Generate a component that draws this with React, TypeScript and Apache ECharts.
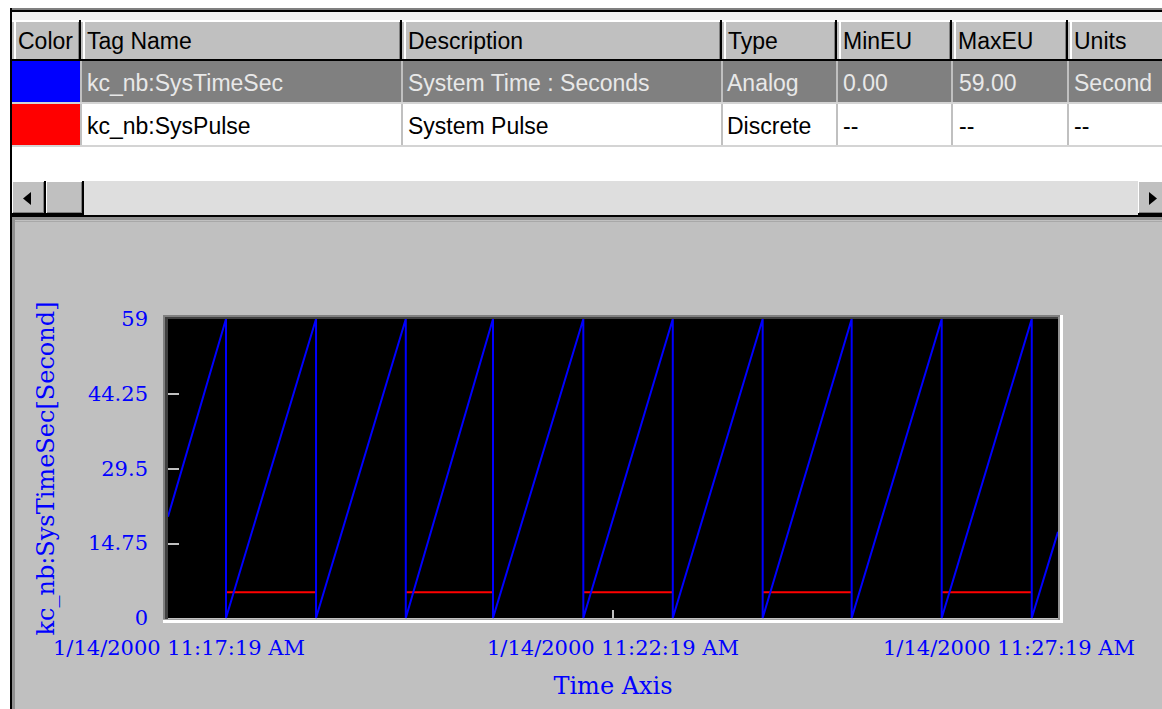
import React, { useEffect, useRef } from "react";
import * as echarts from "echarts";

// ---------- table data ----------
const columns = ["Color", "Tag Name", "Description", "Type", "MinEU", "MaxEU", "Units"];
const tagColors = ["#0000ff", "#ff0000"];
const tagNames = ["kc_nb:SysTimeSec", "kc_nb:SysPulse"];
const descriptions = ["System Time : Seconds", "System Pulse"];
const tagTypes = ["Analog", "Discrete"];
const minEU = ["0.00", "--"];
const maxEU = ["59.00", "--"];
const units = ["Second", "--"];

// ---------- chart data ----------
// time axis: seconds after 1/14/2000 11:17:19 AM
const xTickSec = [0, 300, 600];
const xTickLabels = ["1/14/2000 11:17:19 AM", "1/14/2000 11:22:19 AM", "1/14/2000 11:27:19 AM"];
const yTickValues = [0, 14.75, 29.5, 44.25, 59];

// kc_nb:SysTimeSec (seconds after start, value)
const sysTimeSecT = [0, 39.1, 39.1, 99.8, 99.8, 160.3, 160.3, 219.1, 219.1, 280.0, 280.0, 340.3, 340.3, 400.9, 400.9, 460.9, 460.9, 521.6, 521.6, 582.3, 582.3, 600];
const sysTimeSecV = [20, 59, 0, 59, 0, 59, 0, 59, 0, 59, 0, 59, 0, 59, 0, 59, 0, 59, 0, 59, 0, 17];

// kc_nb:SysPulse (discrete 0 / 1); only the "1" state is drawn on the trend
const sysPulseT = [0, 39.1, 39.1, 99.8, 99.8, 160.3, 160.3, 219.1, 219.1, 280.0, 280.0, 340.3, 340.3, 400.9, 400.9, 460.9, 460.9, 521.6, 521.6, 582.3, 582.3, 600];
const sysPulseV = [0, 0, 1, 1, 0, 0, 1, 1, 0, 0, 1, 1, 0, 0, 1, 1, 0, 0, 1, 1, 0, 0];

const SANS = '"Liberation Sans", Arial, sans-serif';
const SERIF = '"DejaVu Serif", serif';
const BLUE = "#0000ff";

function rect(x: number, y: number, w: number, h: number, fill: string, z = 0) {
  return { type: "rect", silent: true, z, shape: { x, y, width: w, height: h }, style: { fill } };
}
function txt(x: number, y: number, text: string, fill: string) {
  return {
    type: "text",
    silent: true,
    x,
    y,
    style: { text, fill, fontSize: 23, fontFamily: SANS, verticalAlign: "middle", align: "left" },
  };
}

function buildGraphics() {
  const g: any[] = [];
  const colX = [12, 81, 402, 722, 837, 952, 1068, 1240];
  // white page area
  g.push(rect(0, 0, 1162, 219, "#ffffff"));
  g.push(rect(0, 0, 10, 709, "#ffffff"));
  // outer frame
  g.push(rect(10, 8, 1152, 2, "#808080"));
  g.push(rect(10, 10, 1152, 2, "#000000"));
  g.push(rect(10, 8, 2, 701, "#000000"));
  g.push(rect(12, 12, 1150, 8, "#f0f0f0"));
  // header
  for (let i = 0; i < columns.length; i++) {
    const x0 = colX[i];
    const x1 = colX[i + 1];
    g.push(rect(x0, 20, x1 - x0, 41, "#c0c0c0"));
    g.push(rect(x0, 20, x1 - x0, 2, "#ffffff"));
    g.push(rect(x0 + 2, 20, 2, 41, "#ffffff"));
    g.push(rect(x1 - 2, 20, 2, 41, "#000000"));
    g.push(rect(x1 - 3, 22, 1, 38, "#808080"));
    g.push(txt(x0 + 6, 41, columns[i], "#000000"));
  }
  g.push(rect(12, 59, 1150, 2, "#000000"));
  // rows
  const rowY = [61, 104];
  const rowH = 43;
  for (let r = 0; r < 2; r++) {
    const y0 = rowY[r];
    const sel = r === 0;
    g.push(rect(colX[1], y0, 1162 - colX[1], rowH, sel ? "#808080" : "#ffffff"));
    g.push(rect(colX[0], y0, colX[1] - colX[0], rowH - 2, tagColors[r]));
    for (let i = 1; i < colX.length - 1; i++) {
      g.push(rect(colX[i] - 1, y0, 2, rowH, "#c0c0c0"));
    }
    g.push(rect(12, y0 + rowH - 2, 1150, 2, "#d4d4d4"));
    const tc = sel ? "#e8e8e8" : "#000000";
    const cells = [tagNames[r], descriptions[r], tagTypes[r], minEU[r], maxEU[r], units[r]];
    const offs = [6, 6, 5, 6, 7, 6];
    for (let i = 0; i < cells.length; i++) {
      g.push(txt(colX[i + 1] + offs[i], y0 + 22, cells[i], tc));
    }
  }
  // scrollbar
  g.push(rect(12, 181, 1150, 34, "#dedede"));
  const button = (x: number, w: number) => {
    g.push(rect(x, 181, w, 34, "#c0c0c0"));
    g.push(rect(x, 181, w, 1, "#ffffff"));
    g.push(rect(x, 181, 1, 34, "#ffffff"));
    g.push(rect(x + w - 2, 181, 2, 35, "#000000"));
    g.push(rect(x, 213, w, 2, "#000000"));
    g.push(rect(x + w - 3, 182, 1, 31, "#808080"));
    g.push(rect(x + 1, 212, w - 3, 1, "#808080"));
  };
  button(12, 34);
  button(46, 38);
  button(1138, 30);
  g.push({ type: "polygon", silent: true, shape: { points: [[23, 198.5], [31, 192], [31, 205]] }, style: { fill: "#000000" } });
  g.push({ type: "polygon", silent: true, shape: { points: [[1157, 198.5], [1149, 192], [1149, 205]] }, style: { fill: "#000000" } });
  // panel top edge
  g.push(rect(12, 215, 1150, 2, "#000000"));
  g.push(rect(12, 217, 1150, 3, "#909090"));
  g.push(rect(12, 220, 3, 489, "#909090"));
  g.push(rect(15, 221, 1147, 1, "#a8a8a8"));
  // plot sunken frame
  const Z = 50;
  g.push(rect(163, 315, 899, 2, "#808080", Z));
  g.push(rect(163, 315, 2, 307, "#808080", Z));
  g.push(rect(165, 317, 897, 2, "#404040", Z));
  g.push(rect(165, 317, 3, 302, "#404040", Z));
  g.push(rect(163, 619, 900, 1, "#a0a0a0", Z));
  g.push(rect(163, 620, 900, 3, "#ffffff", Z));
  g.push(rect(1058, 317, 2, 303, "#909090", Z));
  g.push(rect(1060, 315, 3, 308, "#ffffff", Z));
  return g;
}

export default function App() {
  const ref = useRef<HTMLDivElement>(null);
  useEffect(() => {
    if (!ref.current) return;
    const chart = echarts.init(ref.current, undefined, { renderer: "svg" });
    const timeData = sysTimeSecT.map((t, i) => [t, sysTimeSecV[i]]);
    // the "0" state of the discrete tag is not traced, so it becomes a gap
    const pulseData = sysPulseT.map((t, i) => [t, sysPulseV[i] === 1 ? 1 : null]);
    const option: any = {
      animation: false,
      backgroundColor: "#c0c0c0",
      graphic: { elements: buildGraphics() },
      grid: {
        left: 168,
        top: 319,
        width: 890,
        height: 299,
        show: true,
        backgroundColor: "#000000",
        borderWidth: 0,
        outerBoundsMode: "none",
        containLabel: false,
      },
      xAxis: {
        type: "value",
        min: xTickSec[0],
        max: xTickSec[xTickSec.length - 1],
        interval: 300,
        name: "Time Axis",
        nameLocation: "middle",
        nameGap: 56,
        nameTextStyle: { color: BLUE, fontFamily: SERIF, fontSize: 24 },
        axisLine: { show: false },
        splitLine: { show: false },
        axisTick: {
          show: true,
          inside: true,
          length: 8,
          customValues: [xTickSec[1]],
          lineStyle: { color: "#c0c0c0", width: 2 },
        },
        axisLabel: {
          show: true,
          showMinLabel: true,
          showMaxLabel: true,
          margin: 19,
          customValues: xTickSec,
          color: BLUE,
          fontFamily: SERIF,
          fontSize: 21,
          formatter: (v: number) => {
            const i = xTickSec.indexOf(v);
            const s = xTickLabels[i] ?? "";
            if (i === 0) return "{l|" + s + "}";
            if (i === xTickSec.length - 1) return "{r|" + s + "}";
            return "{m|" + s + "}";
          },
          rich: {
            l: { color: BLUE, fontFamily: SERIF, fontSize: 21, padding: [0, 0, 0, 22] },
            m: { color: BLUE, fontFamily: SERIF, fontSize: 21 },
            r: { color: BLUE, fontFamily: SERIF, fontSize: 21, padding: [0, 98, 0, 0] },
          },
        },
      },
      yAxis: [
        {
          type: "value",
          min: 0,
          max: 59,
          interval: 14.75,
          name: "kc_nb:SysTimeSec[Second]",
          nameLocation: "middle",
          nameGap: 110,
          nameTextStyle: { color: BLUE, fontFamily: SERIF, fontSize: 24 },
          axisLine: { show: false },
          splitLine: { show: false },
          axisTick: {
            show: true,
            inside: true,
            length: 11,
            customValues: yTickValues.slice(1, 4),
            lineStyle: { color: "#c0c0c0", width: 2 },
          },
          axisLabel: {
            show: true,
            margin: 20,
            color: BLUE,
            fontFamily: SERIF,
            fontSize: 21,
            customValues: yTickValues,
          },
        },
        {
          // discrete pulse scale
          type: "value",
          min: 0,
          max: 11.6,
          show: false,
        },
      ],
      series: [
        {
          name: "kc_nb:SysPulse",
          type: "line",
          yAxisIndex: 1,
          data: pulseData,
          showSymbol: false,
          symbol: "none",
          connectNulls: false,
          clip: true,
          lineStyle: { color: "#ff0000", width: 2 },
          z: 2,
        },
        {
          name: "kc_nb:SysTimeSec",
          type: "line",
          yAxisIndex: 0,
          data: timeData,
          showSymbol: false,
          symbol: "none",
          clip: true,
          lineStyle: { color: BLUE, width: 2 },
          z: 3,
        },
      ],
    };
    chart.setOption(option);
    return () => chart.dispose();
  }, []);
  return (
    <div
      ref={ref}
      style={{ position: "absolute", left: 0, top: 0, width: 1162, height: 709 }}
    />
  );
}
